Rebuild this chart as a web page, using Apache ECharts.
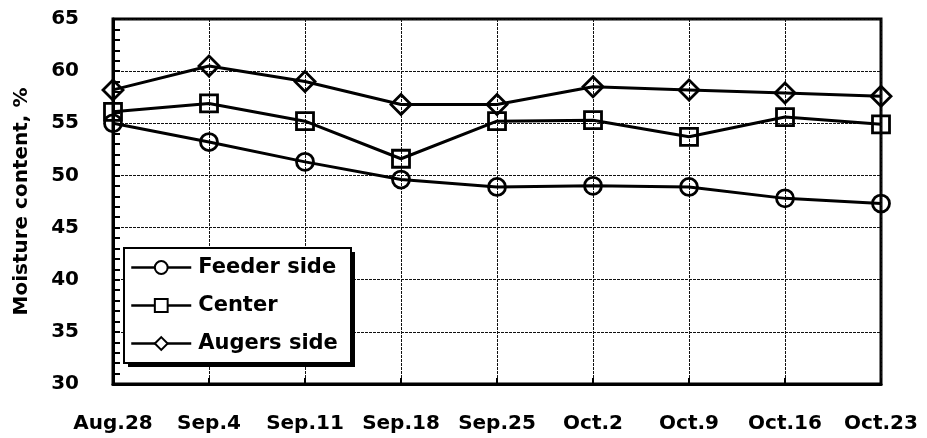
<!DOCTYPE html>
<html>
<head>
<meta charset="utf-8">
<script src="https://cdn.jsdelivr.net/npm/echarts@6/dist/echarts.min.js"></script>
<style>
  html, body { margin: 0; padding: 0; background: #fff; }
  #chart { width: 927px; height: 438px; }
</style>
</head>
<body>
<div id="chart"></div>
<script>
// Sampling dates along the x axis
const dates = ['Aug.28', 'Sep.4', 'Sep.11', 'Sep.18', 'Sep.25', 'Oct.2', 'Oct.9', 'Oct.16', 'Oct.23'];

// Moisture content (%) at each position in the dryer
const feederSide = [55.0, 53.2, 51.3, 49.6, 48.9, 49.0, 48.9, 47.8, 47.3];
const center     = [56.1, 56.9, 55.2, 51.6, 55.2, 55.3, 53.7, 55.6, 54.9];
const augersSide = [58.2, 60.5, 59.0, 56.8, 56.8, 58.5, 58.2, 57.9, 57.6];

const seriesNames = ['Feeder side', 'Center', 'Augers side'];

// Y axis range
const yMin = 30, yMax = 65, yStep = 5;

const FONT = '"DejaVu Sans", Arial, sans-serif';

function lineSeries(name, data, symbol, size) {
  return {
    name: name,
    type: 'line',
    data: data,
    symbol: symbol,
    symbolSize: size,
    showAllSymbol: true,
    lineStyle: { color: '#000', width: 3 },
    itemStyle: { color: 'rgba(255,255,255,0)', borderColor: '#000', borderWidth: 2.8 },
    emphasis: { disabled: true },
    z: 3
  };
}

const chart = echarts.init(document.getElementById('chart'), null, { renderer: 'canvas' });

chart.setOption({
  animation: false,
  backgroundColor: '#fff',
  grid: {
    left: 113, right: 46, top: 19, bottom: 54,
    show: true, borderColor: '#000', borderWidth: 3, backgroundColor: 'transparent'
  },
  // Legend frame with a solid drop shadow
  graphic: [
    { type: 'rect', left: 128, top: 252, z: 10,
      shape: { width: 227, height: 115 }, style: { fill: '#000' } },
    { type: 'rect', left: 123, top: 247, z: 11,
      shape: { width: 227, height: 115 }, style: { fill: '#fff', stroke: '#000', lineWidth: 2 } }
  ],
  legend: {
    data: seriesNames,
    orient: 'vertical',
    left: 130, top: 256,
    padding: 0,
    z: 12,
    itemWidth: 60, itemHeight: 16, itemGap: 15,
    textStyle: { fontFamily: FONT, fontWeight: 'bold', fontSize: 21, lineHeight: 23, color: '#000', padding: [0, 0, 0, 2] },
    itemStyle: { color: '#fff', borderColor: '#000', borderWidth: 2 },
    lineStyle: { color: '#000', width: 2.5 },
    selectedMode: false
  },
  xAxis: {
    type: 'category',
    data: dates,
    boundaryGap: false,
    axisLine: { show: true, lineStyle: { color: '#000', width: 3 } },
    axisTick: { show: true, inside: true, length: 6, alignWithLabel: true, lineStyle: { color: '#000', width: 2 } },
    axisLabel: { margin: 30, fontFamily: FONT, fontWeight: 'bold', fontSize: 20, color: '#000', interval: 0 },
    splitLine: { show: true, lineStyle: { color: '#111', width: 1, type: [3, 1] } }
  },
  yAxis: {
    type: 'value',
    min: yMin, max: yMax, interval: yStep,
    name: 'Moisture content, %',
    nameLocation: 'middle',
    nameGap: 81,
    nameTextStyle: { fontFamily: FONT, fontWeight: 'bold', fontSize: 20, color: '#000' },
    axisLine: { show: true, lineStyle: { color: '#000', width: 3 } },
    axisTick: { show: true, inside: true, length: 7, lineStyle: { color: '#000', width: 2 } },
    minorTick: { show: true, splitNumber: 5, length: 7, lineStyle: { color: '#000', width: 2 } },
    axisLabel: { margin: 34, fontFamily: FONT, fontWeight: 'bold', fontSize: 20, color: '#000' },
    splitLine: { show: true, lineStyle: { color: '#111', width: 1, type: [3, 1] } }
  },
  series: [
    lineSeries(seriesNames[0], feederSide, 'circle', 17),
    lineSeries(seriesNames[1], center, 'rect', 17),
    lineSeries(seriesNames[2], augersSide, 'diamond', 20)
  ]
});
</script>
</body>
</html>
